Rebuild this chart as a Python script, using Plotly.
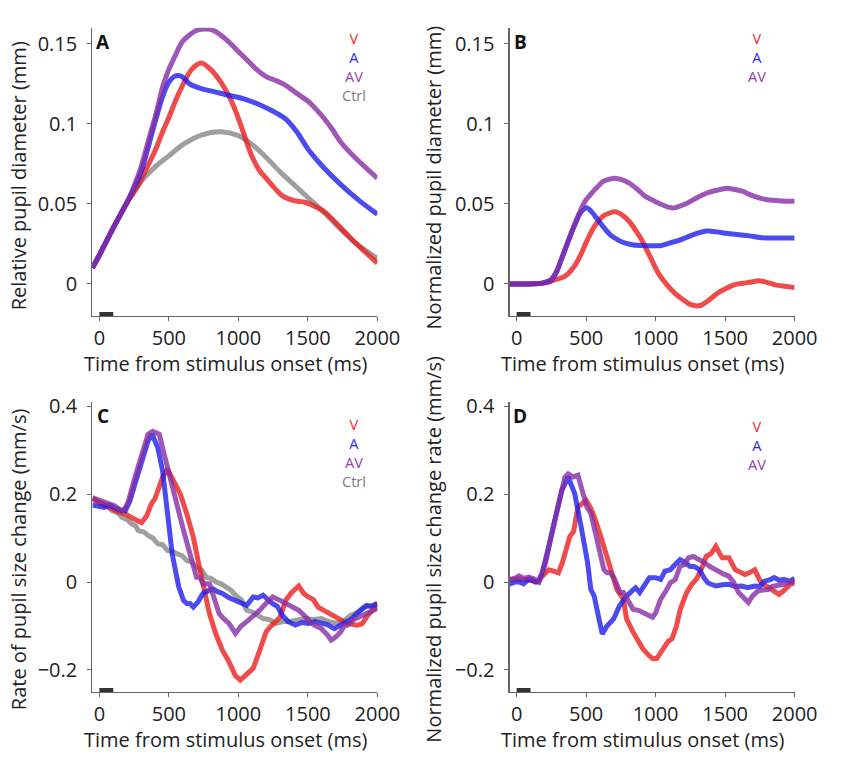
import plotly.graph_objects as go

W, H = 841, 763

# ---------------- Panel A: relative pupil diameter (mm) ----------------
a_v_t = [-50, 0, 100, 200, 270, 338, 400, 455, 500, 571, 664, 734, 800, 874, 940, 1002, 1050, 1096, 1150, 1200, 1260, 1317, 1400, 1480, 1560, 1620, 1737, 1850, 2000]
a_v_y = [0.010, 0.018, 0.035, 0.051, 0.060, 0.072, 0.083, 0.095, 0.104, 0.119, 0.134, 0.138, 0.134, 0.126, 0.116, 0.103, 0.091, 0.080, 0.071, 0.066, 0.060, 0.055, 0.052, 0.051, 0.048, 0.045, 0.035, 0.025, 0.013]
a_a_t = [-50, 0, 100, 200, 250, 300, 361, 410, 455, 500, 548, 594, 650, 734, 830, 921, 1061, 1200, 1340, 1420, 1503, 1600, 1737, 1870, 2000]
a_a_y = [0.010, 0.018, 0.035, 0.051, 0.060, 0.070, 0.0885, 0.104, 0.117, 0.126, 0.130, 0.1295, 0.125, 0.122, 0.120, 0.118, 0.115, 0.110, 0.103, 0.095, 0.084, 0.074, 0.062, 0.052, 0.0435]
a_av_t = [-50, 0, 100, 200, 250, 300, 361, 410, 455, 500, 548, 594, 641, 690, 734, 790, 828, 921, 990, 1061, 1130, 1200, 1270, 1340, 1420, 1503, 1560, 1620, 1680, 1737, 1850, 2000]
a_av_y = [0.010, 0.018, 0.035, 0.051, 0.061, 0.073, 0.092, 0.107, 0.123, 0.134, 0.143, 0.151, 0.155, 0.158, 0.159, 0.159, 0.158, 0.152, 0.146, 0.140, 0.134, 0.1295, 0.127, 0.124, 0.119, 0.114, 0.109, 0.103, 0.096, 0.0885, 0.078, 0.066]
a_c_t = [-50, 0, 100, 200, 300, 400, 500, 600, 734, 874, 1000, 1100, 1200, 1300, 1400, 1500, 1600, 1737, 1850, 2000]
a_c_y = [0.010, 0.018, 0.035, 0.051, 0.064, 0.073, 0.080, 0.087, 0.093, 0.095, 0.0926, 0.087, 0.079, 0.070, 0.062, 0.054, 0.046, 0.034, 0.025, 0.016]

# ---------------- Panel B: normalized pupil diameter (mm) ----------------
b_v_t = [-50, 100, 200, 273, 343, 413, 460, 506, 560, 623, 705, 760, 810, 860, 903, 960, 1020, 1080, 1137, 1200, 1253, 1323, 1370, 1416, 1460, 1510, 1570, 1627, 1690, 1743, 1800, 1860, 1930, 2000]
b_v_y = [0.0, 0.0, 0.0005, 0.0025, 0.0045, 0.0107, 0.018, 0.027, 0.036, 0.0424, 0.045, 0.043, 0.039, 0.033, 0.027, 0.017, 0.0066, -0.0005, -0.0057, -0.010, -0.013, -0.0135, -0.011, -0.0078, -0.005, -0.0027, -0.0005, 0.0004, 0.0012, 0.002, 0.001, -0.0006, -0.0015, -0.0023]
b_a_t = [-50, 100, 180, 250, 285, 320, 355, 390, 425, 460, 506, 540, 576, 620, 670, 720, 763, 830, 903, 970, 1043, 1100, 1160, 1220, 1277, 1370, 1440, 1510, 1590, 1673, 1750, 1837, 1920, 2000]
b_a_y = [0.0, 0.0, 0.0005, 0.0025, 0.007, 0.0148, 0.023, 0.031, 0.038, 0.0445, 0.0475, 0.045, 0.041, 0.036, 0.031, 0.028, 0.026, 0.0245, 0.024, 0.0238, 0.024, 0.0255, 0.027, 0.029, 0.031, 0.033, 0.0325, 0.0316, 0.0308, 0.030, 0.029, 0.0287, 0.0287, 0.0287]
b_av_t = [-50, 100, 180, 250, 285, 320, 355, 390, 425, 460, 495, 530, 575, 623, 670, 705, 760, 810, 870, 926, 985, 1043, 1090, 1137, 1185, 1230, 1300, 1370, 1440, 1510, 1570, 1627, 1700, 1790, 1880, 2000]
b_av_y = [0.0, 0.0, 0.0005, 0.003, 0.0075, 0.015, 0.023, 0.031, 0.039, 0.046, 0.052, 0.0557, 0.060, 0.064, 0.0655, 0.066, 0.065, 0.063, 0.059, 0.0547, 0.052, 0.0496, 0.048, 0.0475, 0.049, 0.0506, 0.054, 0.0568, 0.0585, 0.0598, 0.059, 0.0578, 0.055, 0.0527, 0.052, 0.0516]

# ---------------- Panel C: rate of pupil size change (mm/s) ----------------
c_v_t = [-50, 0, 70, 130, 186, 240, 280, 303, 340, 373, 400, 420, 455, 490, 536, 583, 629, 652, 676, 722, 769, 792, 840, 885, 930, 979, 1014, 1060, 1107, 1154, 1200, 1235, 1270, 1300, 1340, 1380, 1434, 1470, 1503, 1540, 1573, 1620, 1667, 1724, 1783, 1853, 1890, 1923, 1960, 2000]
c_v_y = [0.189, 0.180, 0.170, 0.160, 0.155, 0.145, 0.139, 0.135, 0.150, 0.177, 0.190, 0.207, 0.238, 0.257, 0.230, 0.200, 0.155, 0.132, 0.102, 0.030, -0.034, -0.072, -0.120, -0.155, -0.180, -0.213, -0.223, -0.211, -0.196, -0.155, -0.113, -0.100, -0.090, -0.080, -0.042, -0.025, -0.009, -0.026, -0.034, -0.040, -0.057, -0.065, -0.076, -0.083, -0.094, -0.098, -0.095, -0.079, -0.065, -0.055]
c_a_t = [-50, 0, 35, 70, 105, 150, 186, 221, 256, 303, 350, 380, 420, 455, 490, 524, 571, 606, 630, 652, 676, 710, 745, 780, 815, 850, 885, 930, 979, 1020, 1060, 1107, 1140, 1177, 1210, 1247, 1280, 1317, 1360, 1410, 1460, 1503, 1550, 1597, 1640, 1690, 1730, 1760, 1810, 1853, 1890, 1923, 1960, 2000]
c_a_y = [0.175, 0.172, 0.170, 0.175, 0.170, 0.163, 0.162, 0.185, 0.223, 0.275, 0.321, 0.336, 0.306, 0.253, 0.147, 0.064, -0.011, -0.042, -0.049, -0.049, -0.057, -0.045, -0.026, -0.020, -0.015, -0.022, -0.026, -0.035, -0.042, -0.050, -0.053, -0.034, -0.036, -0.030, -0.040, -0.049, -0.055, -0.076, -0.090, -0.098, -0.092, -0.094, -0.090, -0.094, -0.097, -0.106, -0.100, -0.094, -0.085, -0.072, -0.060, -0.053, -0.055, -0.049]
c_av_t = [-50, 0, 35, 70, 105, 140, 163, 190, 210, 256, 303, 350, 385, 431, 466, 513, 559, 606, 652, 699, 722, 746, 792, 830, 862, 900, 932, 979, 1020, 1060, 1107, 1154, 1200, 1247, 1290, 1340, 1390, 1434, 1480, 1527, 1560, 1597, 1640, 1667, 1700, 1737, 1760, 1783, 1830, 1876, 1910, 1946, 2000]
c_av_y = [0.192, 0.185, 0.181, 0.178, 0.174, 0.168, 0.162, 0.170, 0.185, 0.238, 0.291, 0.336, 0.343, 0.336, 0.291, 0.230, 0.177, 0.117, 0.064, 0.011, 0.011, -0.004, -0.004, -0.040, -0.072, -0.085, -0.094, -0.117, -0.100, -0.090, -0.078, -0.064, -0.048, -0.034, -0.040, -0.049, -0.055, -0.064, -0.078, -0.094, -0.100, -0.106, -0.120, -0.132, -0.125, -0.113, -0.100, -0.098, -0.085, -0.079, -0.072, -0.068, -0.060]
c_c_t = [-50, 0, 23, 58, 93, 130, 163, 200, 233, 260, 280, 320, 350, 385, 420, 455, 490, 525, 559, 595, 629, 665, 699, 735, 769, 805, 839, 875, 909, 945, 979, 1020, 1060, 1100, 1177, 1220, 1270, 1320, 1364, 1420, 1480, 1540, 1597, 1650, 1713, 1760, 1807, 1850, 1900, 1950, 2000]
c_c_y = [0.189, 0.180, 0.177, 0.172, 0.162, 0.158, 0.147, 0.142, 0.132, 0.128, 0.117, 0.114, 0.106, 0.100, 0.087, 0.085, 0.072, 0.070, 0.064, 0.060, 0.049, 0.045, 0.034, 0.027, 0.011, 0.008, 0.0, -0.004, -0.011, -0.018, -0.030, -0.040, -0.064, -0.068, -0.083, -0.085, -0.094, -0.090, -0.090, -0.087, -0.083, -0.085, -0.083, -0.090, -0.094, -0.088, -0.076, -0.070, -0.057, -0.055, -0.049]

# ---------------- Panel D: normalized pupil size change rate (mm/s) ----------------
d_v_t = [-50, 0, 63, 110, 156, 184, 231, 270, 301, 330, 348, 383, 410, 441, 470, 499, 530, 558, 605, 640, 675, 721, 768, 791, 838, 870, 908, 945, 978, 1008, 1060, 1090, 1118, 1150, 1177, 1223, 1260, 1293, 1330, 1363, 1400, 1433, 1460, 1480, 1527, 1550, 1573, 1610, 1643, 1680, 1713, 1740, 1760, 1800, 1830, 1888, 1920, 1946, 1970, 2000]
d_v_y = [0.005, 0.007, 0.006, 0.003, 0.0, 0.0135, 0.028, 0.024, 0.021, 0.045, 0.066, 0.104, 0.115, 0.171, 0.178, 0.186, 0.170, 0.149, 0.104, 0.070, 0.036, -0.017, -0.039, -0.084, -0.114, -0.130, -0.152, -0.165, -0.174, -0.174, -0.148, -0.135, -0.129, -0.100, -0.062, -0.024, -0.005, 0.006, 0.030, 0.058, 0.065, 0.081, 0.065, 0.055, 0.055, 0.040, 0.028, 0.022, 0.017, 0.022, 0.028, 0.010, -0.0015, -0.010, -0.017, -0.028, -0.020, -0.013, -0.005, -0.002]
d_a_t = [-50, -10, 21, 50, 91, 120, 138, 160, 184, 231, 278, 324, 371, 418, 464, 490, 511, 534, 558, 590, 616, 650, 698, 740, 791, 830, 856, 885, 920, 955, 1000, 1036, 1067, 1106, 1140, 1176, 1210, 1246, 1280, 1316, 1347, 1375, 1400, 1433, 1480, 1527, 1570, 1620, 1660, 1713, 1750, 1783, 1820, 1853, 1890, 1923, 1960, 2000]
d_a_y = [-0.005, 0.0, 0.0, -0.004, 0.007, 0.002, 0.0, 0.005, 0.021, 0.081, 0.149, 0.208, 0.239, 0.201, 0.126, 0.085, 0.043, -0.017, -0.032, -0.080, -0.118, -0.100, -0.084, -0.054, -0.032, -0.020, -0.013, -0.024, -0.005, 0.010, 0.010, 0.006, 0.025, 0.028, 0.040, 0.051, 0.045, 0.036, 0.035, 0.028, 0.010, -0.0015, -0.005, -0.009, -0.006, -0.005, -0.010, -0.009, -0.013, -0.009, -0.010, 0.002, 0.005, 0.010, 0.004, 0.006, 0.002, 0.008]
d_av_t = [-50, -10, 16, 50, 86, 120, 161, 208, 254, 301, 348, 371, 406, 441, 476, 506, 534, 581, 628, 651, 675, 700, 721, 745, 768, 810, 838, 880, 908, 950, 978, 1000, 1036, 1067, 1106, 1140, 1176, 1207, 1235, 1270, 1316, 1350, 1386, 1420, 1456, 1490, 1527, 1560, 1597, 1630, 1667, 1697, 1737, 1770, 1806, 1840, 1876, 1920, 1953, 2000]
d_av_y = [0.006, 0.009, 0.014, 0.008, 0.011, 0.008, 0.0, 0.043, 0.111, 0.171, 0.239, 0.246, 0.239, 0.243, 0.208, 0.170, 0.156, 0.096, 0.028, 0.021, 0.021, 0.010, -0.009, -0.024, -0.024, -0.047, -0.062, -0.065, -0.069, -0.077, -0.080, -0.070, -0.039, -0.024, -0.0015, 0.005, 0.036, 0.040, 0.055, 0.058, 0.051, 0.045, 0.036, 0.030, 0.021, 0.018, 0.0135, 0.0, -0.024, -0.035, -0.0465, -0.0315, -0.020, -0.018, -0.017, -0.010, -0.009, -0.005, -0.0015, 0.002]

# ---------------- labels ----------------
x_tick_vals = [0, 500, 1000, 1500, 2000]
x_tick_text = ["0", "500", "1000", "1500", "2000"]
ab_tick_vals = [0, 0.05, 0.1, 0.15]
ab_tick_text = ["0", "0.05", "0.1", "0.15"]
cd_tick_vals = [-0.2, 0, 0.2, 0.4]
cd_tick_text = ["\u22120.2", "0", "0.2", "0.4"]
x_title = "Time from stimulus onset (ms)"
y_titles = ["Relative pupil diameter (mm)", "Normalized pupil diameter (mm)",
            "Rate of pupil size change (mm/s)", "Normalized pupil size change rate (mm/s)"]
panel_letters = ["A", "B", "C", "D"]
cond_names = ["V", "A", "AV", "Ctrl"]

line_colors = {"V": "rgba(236,30,30,0.8)", "A": "rgba(30,30,236,0.8)",
               "AV": "rgba(135,45,165,0.8)", "Ctrl": "rgba(135,135,135,0.8)"}
text_colors = {"V": "#ee2a2a", "A": "#2a2aee", "AV": "#9040ac", "Ctrl": "#7a7a7a"}

FONT = "Open Sans"

def px(x):
    return x / W

def py(y):
    return 1 - y / H

# plot areas in pixels: (left, right, top, bottom)
areas = [(95, 388, 18, 310), (524, 817, 18, 310), (95, 388, 397, 691), (524, 817, 397, 691)]
yranges = [[-0.02, 0.16], [-0.02, 0.16], [-0.25, 0.41], [-0.25, 0.41]]
label_tops = [17, 17, 408, 410]

panels = [
    [("Ctrl", a_c_t, a_c_y), ("V", a_v_t, a_v_y), ("A", a_a_t, a_a_y), ("AV", a_av_t, a_av_y)],
    [("V", b_v_t, b_v_y), ("A", b_a_t, b_a_y), ("AV", b_av_t, b_av_y)],
    [("Ctrl", c_c_t, c_c_y), ("V", c_v_t, c_v_y), ("A", c_a_t, c_a_y), ("AV", c_av_t, c_av_y)],
    [("V", d_v_t, d_v_y), ("A", d_a_t, d_a_y), ("AV", d_av_t, d_av_y)],
]

fig = go.Figure()
annotations = []
shapes = []
layout = dict(width=W, height=H, margin=dict(l=0, r=0, t=0, b=0),
              paper_bgcolor="white", plot_bgcolor="white", showlegend=False,
              font=dict(family=FONT, color="#222", size=20))

for i, (series, (l, r, t, b)) in enumerate(zip(panels, areas)):
    k = "" if i == 0 else str(i + 1)
    xa, ya = "x" + k, "y" + k
    for name, tt, yy in series:
        fig.add_trace(go.Scatter(
            x=tt, y=yy, xaxis=xa, yaxis=ya, mode="lines",
            line=dict(color=line_colors[name], width=5,
                      shape="spline" if i < 2 else "linear", smoothing=0.8),
            hoverinfo="skip"))
    axis_common = dict(showgrid=False, zeroline=False, showline=True, linecolor="#666",
                       linewidth=1.2, ticks="outside", ticklen=4, tickcolor="#666",
                       tickfont=dict(family=FONT, size=20, color="#222"))
    layout["xaxis" + k] = dict(axis_common, domain=[px(l), px(r)], range=[-50, 2000],
                                tickvals=x_tick_vals, ticktext=x_tick_text, anchor=ya)
    tv, tx = (ab_tick_vals, ab_tick_text) if i < 2 else (cd_tick_vals, cd_tick_text)
    layout["yaxis" + k] = dict(axis_common, domain=[py(b), py(t)], range=yranges[i],
                                tickvals=tv, ticktext=tx, anchor=xa, ticklabelstandoff=6)
    # stimulus bar
    shapes.append(dict(type="rect", xref=xa, yref=ya + " domain", x0=0, x1=100,
                       y0=0, y1=0.014, fillcolor="#333", line=dict(width=0)))
    # panel letter
    annotations.append(dict(text="<b>%s</b>" % panel_letters[i], xref="paper", yref="paper",
                            x=px(l + 11), y=py(t + 14), xanchor="center", yanchor="middle",
                            showarrow=False, font=dict(family=FONT, size=19, color="#111")))
    # x title
    annotations.append(dict(text=x_title, xref="paper", yref="paper",
                            x=px((l + r) / 2 - 9), y=py(b + 48), xanchor="center", yanchor="middle",
                            showarrow=False, font=dict(family=FONT, size=20, color="#222")))
    # y title
    ytc = [(19, 168), (446, 170), (19, 556), (446, 546)][i]
    annotations.append(dict(text=y_titles[i], xref="paper", yref="paper", textangle=-90,
                            x=px(ytc[0]), y=py(ytc[1]), xanchor="center", yanchor="middle",
                            showarrow=False, font=dict(family=FONT, size=20, color="#222")))
    # condition labels (one multi-line text block)
    names = [n for n in cond_names if any(s[0] == n for s in series)]
    block = "<br>".join('<span style="color:%s">%s</span>' % (text_colors[n], n) for n in names)
    lx = 364 if l < 400 else 778
    annotations.append(dict(text=block, xref="paper", yref="paper",
                            x=px(lx), y=py(label_tops[i]), align="center",
                            xanchor="center", yanchor="top", showarrow=False,
                            font=dict(family=FONT, size=14.5, color="#222")))

layout["annotations"] = annotations
layout["shapes"] = shapes
fig.update_layout(**layout)
fig.write_html("out.html", config={"staticPlot": True, "displayModeBar": False},
               post_script="document.body.style.margin='0';document.body.style.overflow='hidden';")
